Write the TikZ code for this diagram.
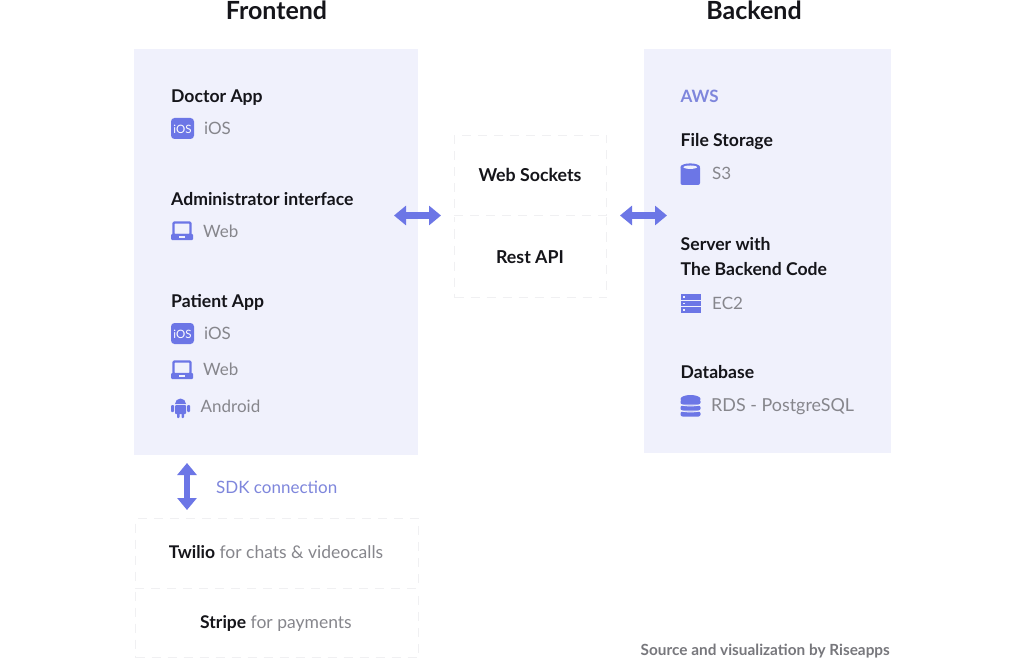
\documentclass[tikz,border=0pt]{standalone}
\usepackage{fontspec}
\setmainfont{Lato}
\usetikzlibrary{arrows.meta}
\definecolor{panel}{HTML}{F0F1FC}
\definecolor{accent}{HTML}{6C76E6}
\definecolor{lbl}{HTML}{7E86DC}
\definecolor{muted}{HTML}{86868C}
\definecolor{ink}{HTML}{15151A}
\definecolor{dash}{HTML}{F0F0F2}
\definecolor{credit}{HTML}{77777C}
\tikzset{
  x=1pt,y=-1pt,
  head/.style={anchor=base,inner sep=0,font=\fontsize{25}{28}\selectfont\bfseries,text=ink},
  title/.style={anchor=base west,inner sep=0,font=\fontsize{17.6}{20}\selectfont\bfseries,text=ink},
  sub/.style={anchor=base west,inner sep=0,font=\fontsize{17}{20}\selectfont,text=muted},
  ctitle/.style={anchor=base,inner sep=0,font=\fontsize{17.8}{20}\selectfont\bfseries,text=ink},
  panelbox/.style={fill=panel,draw=none},
  dashbox/.style={draw=dash,line width=1pt,dash pattern=on 9pt off 7pt},
  bigarrow/.style={accent,line width=6.5pt,{Triangle[length=12pt,width=19pt]}-{Triangle[length=12pt,width=19pt]},shorten >=0pt,shorten <=0pt},
  ico/.style={fill=accent,draw=none},
}
\newcommand{\iosicon}[2]{%
  \fill[ico,rounded corners=3.5pt] (#1,#2) rectangle ++(23,21);
  \node[inner sep=0,text=white,font=\fontsize{11.5}{12}\selectfont] at (#1+11.5,#2+11) {iOS};}
\newcommand{\webicon}[2]{%
  \draw[accent,line width=2.4pt,rounded corners=1pt] (#1+2.5,#2+1.5) rectangle (#1+19.5,#2+14);
  \fill[ico,rounded corners=1pt] (#1,#2+13) rectangle (#1+22,#2+19);
  \fill[panel] (#1+8,#2+15.2) rectangle (#1+14,#2+17);}
\newcommand{\androidicon}[2]{%
  \fill[ico] (#1+4.5,#2+7) arc[start angle=180,end angle=360,radius=5.5] -- cycle;
  \fill[ico,rounded corners=1pt] (#1+4.5,#2+8) rectangle (#1+15.5,#2+17);
  \fill[ico,rounded corners=1pt] (#1+0.5,#2+8) rectangle (#1+3.5,#2+15);
  \fill[ico,rounded corners=1pt] (#1+16.5,#2+8) rectangle (#1+19.5,#2+15);
  \fill[ico,rounded corners=1pt] (#1+6.5,#2+15) rectangle (#1+9,#2+21);
  \fill[ico,rounded corners=1pt] (#1+11,#2+15) rectangle (#1+13.5,#2+21);}
\begin{document}
\begin{tikzpicture}
\useasboundingbox (0,0) rectangle (1024,660);
\fill[white] (0,0) rectangle (1024,660);
% panels
\node[panelbox,minimum width=284pt,minimum height=406pt,inner sep=0,anchor=north west] (front) at (134,49) {};
\node[panelbox,minimum width=247pt,minimum height=404pt,inner sep=0,anchor=north west] (back) at (644,49) {};
% dashed boxes
\node[dashbox,minimum width=152pt,minimum height=80pt,inner sep=0,anchor=north west] (ws) at (454,135) {};
\node[dashbox,minimum width=152pt,minimum height=82pt,inner sep=0,anchor=north west] (rest) at (454,215) {};
\node[dashbox,minimum width=283pt,minimum height=69pt,inner sep=0,anchor=north west] (twilio) at (135,518) {};
\node[dashbox,minimum width=283pt,minimum height=70pt,inner sep=0,anchor=north west] (stripe) at (135,587) {};
% single dashed dividers where the boxes meet
\draw[white,line width=1.6pt] (ws.south west) -- (ws.south east);
\draw[dashbox] (ws.south west) -- (ws.south east);
\draw[white,line width=1.6pt] (twilio.south west) -- (twilio.south east);
\draw[dashbox] (twilio.south west) -- (twilio.south east);
% headings
\node[head] (hf) at (276.5,20) {Frontend};
\node[head] (hb) at (754,20) {Backend};
% frontend
\node[title] (t1) at (171,103) {Doctor App};
\iosicon{171}{118}
\node[sub] (s1) at (204,135) {iOS};
\node[title] (t2) at (171,205.5) {Administrator interface};
\webicon{171}{221}
\node[sub] (s2) at (203,237) {Web};
\node[title] (t3) at (171,307) {Patient App};
\iosicon{171}{323}
\node[sub] (s3) at (204,339) {iOS};
\webicon{171}{360}
\node[sub] (s4) at (203,375) {Web};
\androidicon{170.5}{397}
\node[sub] (s5) at (200.5,412) {Android};
% middle
\node[ctitle] (tws) at (530,181.5) {Web Sockets};
\node[ctitle] (trest) at (530,263) {Rest API};
% backend
\node[anchor=base west,inner sep=0,font=\fontsize{17}{20}\selectfont\bfseries,text=lbl] (aws) at (680.5,102.5) {AWS};
\node[title] (b1) at (680.5,147) {File Storage};
\fill[ico,rounded corners=2pt] (680.5,166) rectangle (700,185);
\fill[ico] (690.25,167) ellipse[x radius=9.75,y radius=3.6];
\fill[panel] (690.25,167.2) ellipse[x radius=6.8,y radius=1.7];
\node[sub] (b1s) at (712,180) {S3};
\node[title] (b2) at (680.5,250.5) {Server with};
\node[title] (b2b) at (680.5,275.5) {The Backend Code};
\foreach \yy in {294,300.5,307}{
  \fill[ico] (681,\yy) rectangle (701,\yy+5.5);
  \fill[panel] (683,\yy+2) rectangle (685,\yy+3.5);}
\node[sub] (b2s) at (712,309) {EC2};
\node[title] (b3) at (680.5,378) {Database};
\fill[ico] (690.5,399) ellipse[x radius=10,y radius=4];
\foreach \yy in {399.5,405.5,411.5}{
  \fill[ico,rounded corners=2pt] (680.5,\yy) rectangle (700.5,\yy+5);}
\foreach \yy in {404.5,410.5}{
  \draw[panel,line width=0.8pt] (680.5,\yy) .. controls (685,\yy+2) and (696,\yy+2) .. (700.5,\yy);}
\node[sub,font=\fontsize{17.9}{20}\selectfont] (b3s) at (711,411.5) {RDS - PostgreSQL};
% arrows
\coordinate (a1l) at (394,215.5);
\coordinate (a1r) at (441,215.5);
\coordinate (a2l) at (620,215.5);
\coordinate (a2r) at (667,215.5);
\coordinate (a3t) at (187,463);
\coordinate (a3b) at (187,510);
\draw[bigarrow] (a1l) -- (a1r);
\draw[bigarrow] (a2l) -- (a2r);
\draw[bigarrow] (a3t) -- (a3b);
\node[sub,text=lbl] (sdk) at (216,493) {SDK connection};
% services
\node[anchor=base,inner sep=0,font=\fontsize{17.5}{20}\selectfont,text=muted] (tw) at (276,558) {\textcolor{ink}{\bfseries Twilio} for chats \& videocalls};
\node[anchor=base,inner sep=0,font=\fontsize{17.5}{20}\selectfont,text=muted] (st) at (276,628) {\textcolor{ink}{\bfseries Stripe} for payments};
\node[anchor=base east,inner sep=0,font=\fontsize{15.35}{16}\selectfont\bfseries,text=credit] (src) at (890,655) {Source and visualization by Riseapps};
\end{tikzpicture}
\end{document}
